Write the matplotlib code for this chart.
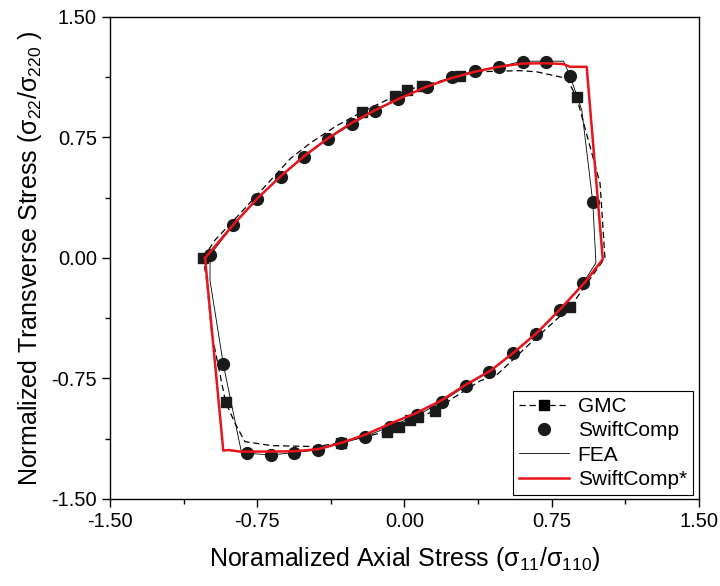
import matplotlib
matplotlib.use("Agg")
import matplotlib.pyplot as plt
from matplotlib.lines import Line2D
from matplotlib.ticker import MultipleLocator, FormatStrFormatter

plt.rcParams['font.family'] = ['Liberation Sans', 'DejaVu Sans']
plt.rcParams['mathtext.fontset'] = 'custom'
plt.rcParams['mathtext.rm'] = 'Liberation Sans'
plt.rcParams['mathtext.it'] = 'Liberation Sans'

# SwiftComp (circles)
sc_x = [-0.99, -0.872, -0.753, -0.631, -0.510, -0.391, -0.266, -0.149, -0.032, 0.113,
        0.240, 0.359, 0.481, 0.602, 0.721, 0.843, 0.959, 0.911, 0.792, 0.670,
        0.554, 0.430, 0.312, 0.190, 0.065, -0.075, -0.201, -0.323, -0.442, -0.561,
        -0.680, -0.804, -0.923]
sc_y = [0.019, 0.205, 0.367, 0.506, 0.630, 0.741, 0.834, 0.917, 0.988, 1.066,
        1.126, 1.166, 1.190, 1.218, 1.218, 1.134, 0.350, -0.154, -0.323, -0.473,
        -0.593, -0.708, -0.797, -0.894, -0.980, -1.050, -1.112, -1.153, -1.195, -1.211,
        -1.226, -1.215, -0.661]

# FEA (thin line)
fea_x = [-0.99, -0.872, -0.753, -0.631, -0.510, -0.391, -0.266, -0.149, -0.032, 0.113,
         0.240, 0.359, 0.481, 0.602, 0.721, 0.810, 0.843, 0.903, 0.959, 0.975,
         0.911, 0.792, 0.670, 0.554, 0.430, 0.312, 0.190, 0.065, -0.075, -0.201,
         -0.323, -0.442, -0.561, -0.680, -0.830, -0.923, -0.991, -0.99]
fea_y = [0.019, 0.205, 0.367, 0.506, 0.630, 0.741, 0.834, 0.917, 0.988, 1.066,
         1.126, 1.166, 1.190, 1.225, 1.225, 1.225, 1.134, 0.921, 0.350, -0.030,
         -0.154, -0.323, -0.473, -0.593, -0.708, -0.797, -0.894, -0.980, -1.050, -1.112,
         -1.153, -1.195, -1.211, -1.226, -1.213, -0.661, -0.137, 0.019]

# GMC (dashed line + squares)
gmc_x = [-1.025, -0.965, -0.850, -0.700, -0.580, -0.480, -0.350, -0.215, -0.048, 0.011,
         0.088, 0.283, 0.368, 0.588, 0.673, 0.826, 0.877, 0.996, 1.021, 0.843,
         0.650, 0.470, 0.385, 0.250, 0.155, 0.070, 0.030, -0.030, -0.090, -0.323,
         -0.447, -0.677, -0.813, -0.863, -0.911, -0.982, -1.008, -1.025]
gmc_y = [0.000, 0.112, 0.260, 0.460, 0.620, 0.715, 0.820, 0.910, 1.008, 1.045,
         1.070, 1.134, 1.159, 1.166, 1.159, 1.118, 1.000, 0.465, 0.000, -0.307,
         -0.520, -0.728, -0.765, -0.870, -0.952, -0.990, -1.010, -1.050, -1.080, -1.149,
         -1.174, -1.168, -1.143, -1.029, -0.898, -0.469, -0.137, 0.000]
gmc_sq_x = [-1.025, -0.215, -0.048, 0.011, 0.088, 0.283, 0.877, 0.843, 0.155, 0.070,
            0.030, -0.030, -0.090, -0.323, -0.911]
gmc_sq_y = [0.000, 0.910, 1.008, 1.045, 1.070, 1.134, 1.000, -0.307, -0.952, -0.990,
            -1.010, -1.050, -1.080, -1.149, -0.898]

# SwiftComp* (red line)
scs_x = [-1.016, -0.870, -0.750, -0.630, -0.510, -0.390, -0.270, -0.150, -0.030, 0.110,
         0.240, 0.360, 0.480, 0.600, 0.720, 0.809, 0.843, 0.928, 1.010, 0.920,
         0.800, 0.680, 0.560, 0.440, 0.310, 0.190, 0.060, -0.070, -0.200, -0.320,
         -0.440, -0.560, -0.680, -0.838, -0.898, -0.923, -1.016]
scs_y = [0.000, 0.210, 0.370, 0.510, 0.635, 0.745, 0.840, 0.920, 0.990, 1.065,
         1.120, 1.160, 1.190, 1.210, 1.212, 1.207, 1.190, 1.190, -0.008, -0.150,
         -0.310, -0.460, -0.585, -0.700, -0.790, -0.885, -0.965, -1.030, -1.100, -1.150,
         -1.190, -1.203, -1.205, -1.205, -1.195, -1.199, 0.000]

fig = plt.figure(figsize=(7.2, 5.86), dpi=100)
ax = fig.add_axes([0.1528, 0.1485, 0.818, 0.8225])

ax.plot(fea_x, fea_y, color='black', lw=0.6, zorder=2)
ax.plot(gmc_x, gmc_y, color='black', lw=0.9, linestyle=(0, (5, 3)), zorder=2)
ax.plot(gmc_sq_x, gmc_sq_y, linestyle='none', marker='s', ms=7, color='#1a1a1a', zorder=3)
ax.plot(sc_x, sc_y, linestyle='none', marker='o', ms=8.5, color='#1a1a1a', zorder=3)
ax.plot(scs_x, scs_y, color='#e8141c', lw=1.8, zorder=4)

ax.set_xlim(-1.5, 1.5)
ax.set_ylim(-1.5, 1.5)
ax.xaxis.set_major_locator(MultipleLocator(0.75))
ax.yaxis.set_major_locator(MultipleLocator(0.75))
ax.xaxis.set_minor_locator(MultipleLocator(0.375))
ax.yaxis.set_minor_locator(MultipleLocator(0.375))
ax.xaxis.set_major_formatter(FormatStrFormatter('%.2f'))
ax.yaxis.set_major_formatter(FormatStrFormatter('%.2f'))
ax.tick_params(which='both', direction='out', width=1, top=False, right=False, labelsize=14.5)
ax.tick_params(which='major', length=6)
ax.tick_params(which='minor', length=3.5)
for s in ax.spines.values():
    s.set_linewidth(1)

ax.set_xlabel(r'Noramalized Axial Stress (σ$_{11}$/σ$_{110}$)', fontsize=18, labelpad=10)
ax.set_ylabel(r'Normalized Transverse Stress (σ$_{22}$/σ$_{220}$ )', fontsize=18, labelpad=5)

handles = [
    Line2D([], [], color='black', lw=0.9, linestyle=(0, (5, 3)), marker='s', ms=7),
    Line2D([], [], color='#1a1a1a', linestyle='none', marker='o', ms=8.5),
    Line2D([], [], color='black', lw=0.6),
    Line2D([], [], color='#e8141c', lw=1.8),
]
labels = ['GMC', 'SwiftComp', 'FEA', 'SwiftComp*']
leg = ax.legend(handles, labels, loc='lower right', bbox_to_anchor=(0.99, 0.008),
                borderaxespad=0, fontsize=15, handlelength=2.4, labelspacing=0.25,
                fancybox=False, framealpha=1, edgecolor='black', borderpad=0.3,
                handletextpad=0.4)
leg.get_frame().set_linewidth(0.8)

fig.savefig('out.png', dpi=100)
